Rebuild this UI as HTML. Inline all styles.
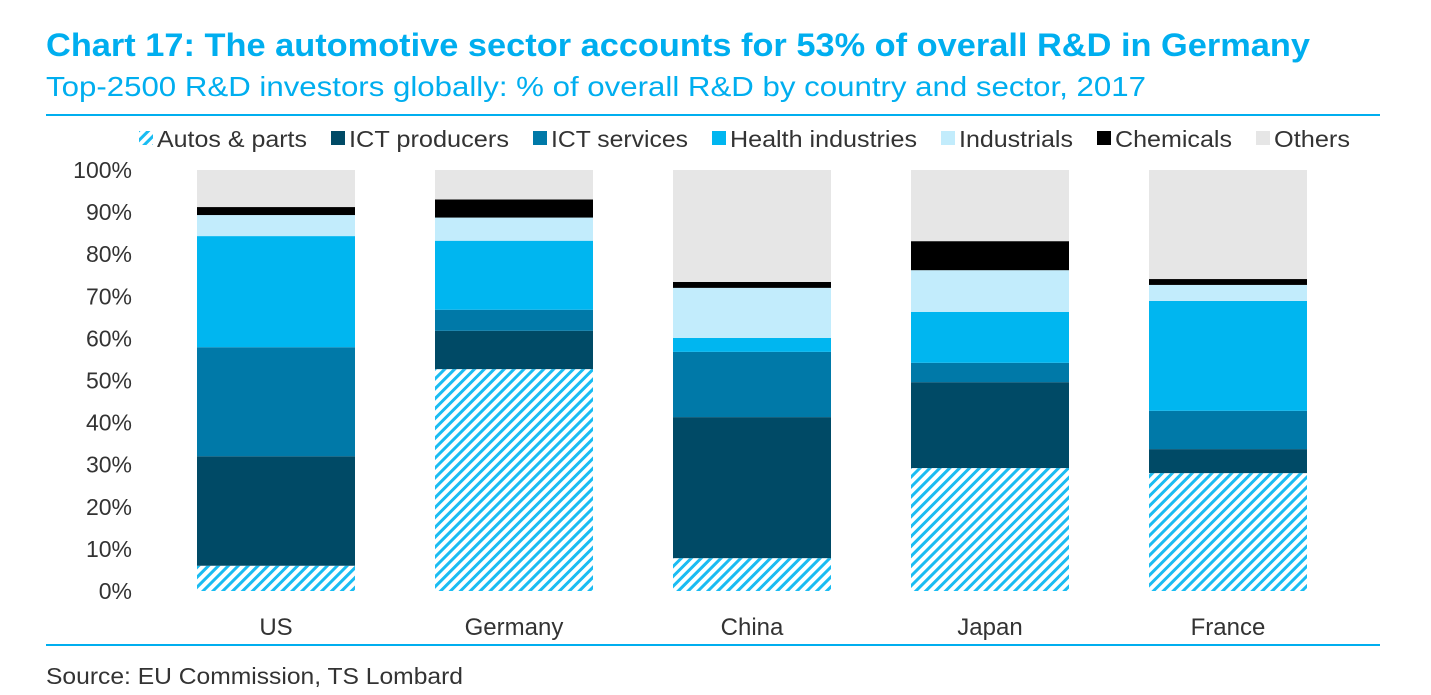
<!DOCTYPE html>
<html><head><meta charset="utf-8"><style>
body{margin:0;background:#fff;font-family:"Liberation Sans",sans-serif;}
#wrap{position:relative;width:1431px;height:695px;overflow:hidden;}
</style></head><body>
<div id="wrap">
<svg id="chart" width="1431" height="695" xmlns="http://www.w3.org/2000/svg">
<defs>
<pattern id="hatch" patternUnits="userSpaceOnUse" width="7" height="7" patternTransform="rotate(45)">
<rect width="7" height="7" fill="#fff"/><rect width="3" height="7" fill="#1abcf2"/>
</pattern>
</defs>
<text x="46" y="56" font-size="32" font-weight="bold" fill="#00aeef" textLength="1264" lengthAdjust="spacingAndGlyphs">Chart 17: The automotive sector accounts for 53% of overall R&amp;D in Germany</text>
<text x="46" y="96" font-size="28" fill="#00aeef" textLength="1100" lengthAdjust="spacingAndGlyphs">Top-2500 R&amp;D investors globally: % of overall R&amp;D by country and sector, 2017</text>
<line x1="46" y1="115" x2="1380" y2="115" stroke="#00aeef" stroke-width="2"/>
<line x1="46" y1="645" x2="1380" y2="645" stroke="#00aeef" stroke-width="2"/>
<text x="46" y="684" font-size="23" fill="#333" textLength="417" lengthAdjust="spacingAndGlyphs">Source: EU Commission, TS Lombard</text>
<g id="legend"></g>
<g id="yaxis"></g>
<g id="bars"></g>
<g id="xaxis"></g>
</svg>
</div>
<script>
const categories = ["US","Germany","China","Japan","France"];
const seriesNames = ["Autos & parts","ICT producers","ICT services","Health industries","Industrials","Chemicals","Others"];
const autos = [6, 52.7, 7.8, 29.2, 28];
const ictProducers = [26, 9.1, 33.5, 20.4, 5.7];
const ictServices = [25.9, 5, 15.5, 4.6, 9.1];
const health = [26.4, 16.4, 3.3, 12.1, 26.1];
const industrials = [5, 5.5, 11.9, 9.9, 3.8];
const chemicals = [1.9, 4.3, 1.4, 6.9, 1.4];
const others = [8.8, 7.0, 26.6, 16.9, 25.9];
const yTicks = [0,10,20,30,40,50,60,70,80,90,100];
const series = [autos, ictProducers, ictServices, health, industrials, chemicals, others];
const colors = ["url(#hatch)","#004a66","#0079a8","#00b6f0","#c2ecfc","#000000","#e6e6e6"];
const NS = "http://www.w3.org/2000/svg";
const y0 = 591, y100 = 170;
const yScale = v => y0 - (y0 - y100) * v / 100;
const xScale = i => 197 + i * 238;
const barW = 158;
function mk(tag, attrs, parent){const e=document.createElementNS(NS,tag);for(const k in attrs)e.setAttribute(k,attrs[k]);parent.appendChild(e);return e;}
const yg=document.getElementById('yaxis');
yTicks.forEach(t=>{const e=mk('text',{x:132,y:yScale(t)+8,'text-anchor':'end','font-size':23,fill:'#333'},yg);


e.textContent=t+'%';});
const xg=document.getElementById('xaxis');
categories.forEach((c,i)=>{const e=mk('text',{x:xScale(i)+barW/2,y:635,'text-anchor':'middle','font-size':24,fill:'#333'},xg);


e.textContent=c;});
const bg=document.getElementById('bars');
categories.forEach((c,i)=>{let cum=0;series.forEach((s,j)=>{const v=s[i];const r=mk('rect',{x:xScale(i),y:yScale(cum+v),width:barW,height:yScale(cum)-yScale(cum+v),fill:colors[j]},bg);


cum+=v;});});
const lg=document.getElementById('legend');
const legX=[139,331,533,712,941,1097,1256];
const legW=[150,160,137,187,114,117,76];
seriesNames.forEach((n,j)=>{const g=mk('g',{},lg);


mk('rect',{x:legX[j],y:131,width:14,height:14,fill:colors[j]},g);
const t=mk('text',{x:legX[j]+18,y:147,'font-size':23,fill:'#333',textLength:legW[j],lengthAdjust:'spacingAndGlyphs'},g);t.textContent=n;});
</script>
</body></html>
